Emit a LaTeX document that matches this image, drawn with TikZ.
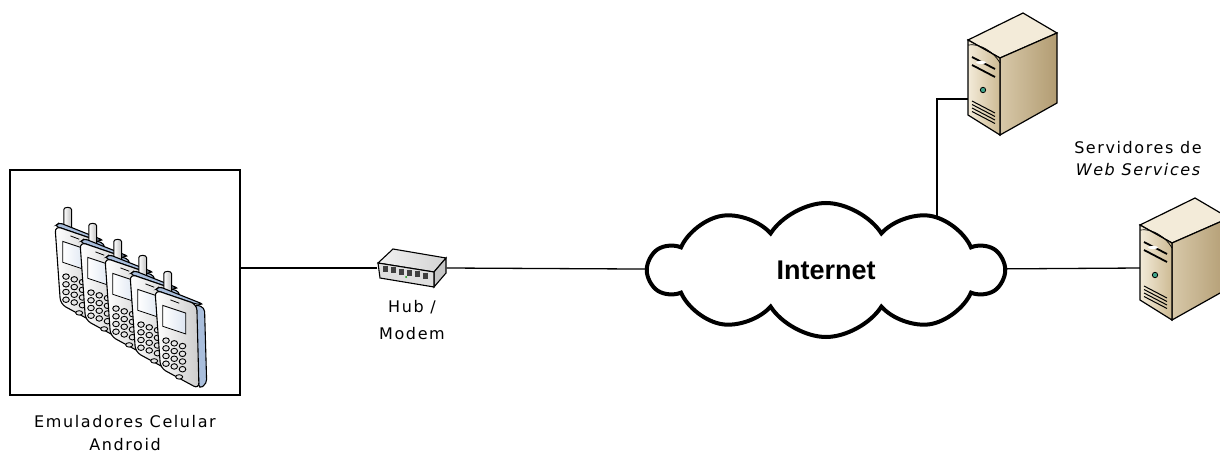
\documentclass[tikz,border=0pt]{standalone}
\usepackage{fontspec}
\setmainfont{DejaVu Sans}
\newfontfamily\rotulofonte[LetterSpace=10]{DejaVu Sans}
\newfontfamily\nuvemfonte{Liberation Sans}
\usetikzlibrary{positioning,shapes.symbols,backgrounds}

\definecolor{begeclaro}{HTML}{F3EBD9}
\definecolor{begeescuro}{HTML}{CDBA93}
\definecolor{begelado}{HTML}{B29C72}
\definecolor{azulcel}{HTML}{A9BEDC}
\definecolor{verdeled}{HTML}{3FA58A}

\tikzset{
  rotulo/.style={font=\rotulofonte\fontsize{16}{22}\selectfont, align=center, inner sep=0pt},
  ligacao/.style={line width=1.3pt},
  % aparelho celular
  celular/.pic={
    \draw[line width=1pt, left color=white, right color=gray!50]
      (8,5) -- (8,-15) arc[start angle=180, end angle=0, x radius=3.5pt, y radius=2pt] -- (15,6) -- cycle;
    \draw[line width=1.1pt, fill=azulcel, rounded corners=4pt]
      (36,13) -- (45,16) -- (47,85) -- (40,90) -- cycle;
    \draw[line width=1.1pt, fill=azulcel, rounded corners=3pt]
      (0,0) -- (4,-3) -- (44,13) -- (38,13) -- cycle;
    \draw[line width=1.1pt, left color=white, right color=gray!40, rounded corners=6pt]
      (0,0) -- (38,13) -- (40,90) -- (5,71) -- cycle;
    \draw[line width=0.8pt, left color=white, right color=azulcel!40]
      (7,14) -- (28,21) -- (28,40) -- (7,33) -- cycle;
    \draw[line width=0.8pt] (14,9) -- (22,12);
    \foreach \l in {0,...,3}
      \foreach \c in {0,1,2}
        \draw[line width=0.9pt, fill=gray!20] ({10+7.5*\c},{46+7*\l+2.5*\c}) ellipse (3pt and 2.5pt);
    \draw[line width=0.9pt, fill=gray!20] (22,79) ellipse (3.2pt and 2pt);
  },
  % servidor em torre
  servidor/.pic={
    \draw[line width=1.2pt, fill=begeclaro] (0,0) -- (55,-27) -- (89,-7) -- (32,18) -- cycle;
    \draw[line width=1.2pt, left color=begeescuro!80, right color=begelado] (32,18) -- (89,-7) -- (89,63) -- (32,95) -- cycle;
    \draw[line width=1.2pt, left color=begeclaro, right color=begeescuro] (0,0) -- (32,18) -- (32,95) -- (0,75) -- cycle;
    \draw[line width=0.7pt] (0,5) .. controls (12,3) and (26,12) .. (32,23);
    \draw[line width=1.8pt] (4,17) -- (27,29);
    \draw[line width=1.8pt] (4,25) -- (27,37);
    \fill[white] (13,22.5) ellipse (5pt and 1.6pt);
    \draw[line width=0.8pt, fill=verdeled] (15,50) circle (2.7pt);
    \foreach \k in {0,...,3}
      \draw[line width=1pt] (4,{61+3.5*\k}) -- (27,{73+3.5*\k});
  }
}

\begin{document}
\begin{tikzpicture}[x=1pt,y=-1pt]
  \useasboundingbox (0,0) rectangle (1220,452);

  % emuladores
  \node[draw, line width=1.4pt, minimum width=230pt, minimum height=225pt, inner sep=0pt] (emu) at (125,282.5) {};
  \foreach \k in {0,...,4}
    \pic[scale=1.1] at ({55+25*\k},{226+16*\k}) {celular};
  \node[rotulo, font=\rotulofonte\fontsize{16}{23}\selectfont, below=19pt of emu] (emutxt) {Emuladores Celular\\Android};

  % hub
  \node[minimum width=69pt, minimum height=36pt, inner sep=0pt] (hub) at (412,268) {};
  \draw[line width=1.1pt, left color=gray!10, right color=gray!35] (378,263) -- (393,249) -- (446,258) -- (434,272) -- cycle;
  \draw[line width=1.1pt, fill=gray!45] (434,272) -- (446,258) -- (446,273) -- (434,287) -- cycle;
  \draw[line width=1.1pt, fill=gray!25] (378,263) -- (434,272) -- (434,287) -- (380,278) -- cycle;
  \foreach \k in {0,...,5}
    \fill[black!75] ({383+8*\k},{266+1.3*\k}) rectangle ++(5,6);
  \fill[green!60!black] (406,277) circle (1pt);
  \node[rotulo, below=14pt of hub] (hubtxt) {Hub /\\[5pt]Modem};

  % internet
  \node[cloud, cloud puffs=10, cloud puff arc=115, aspect=2.6, draw, line width=4pt, fill=white,
        minimum width=354pt, minimum height=134pt, font=\nuvemfonte\bfseries\fontsize{27}{30}\selectfont]
    (internet) at (826,270) {Internet};

  % servidores
  \pic at (968,40) {servidor};
  \coordinate (srvA) at (968,99);
  \begin{scope}[shift={(1140,225)}, scale=1.1]
    \pic at (0,0) {servidor};
  \end{scope}
  \coordinate (srvB) at (1141,268);
  \node[rotulo, anchor=north] (srvtxt) at (1138,141) {Servidores de\\\itshape Web Services};

  \begin{pgfonlayer}{background}
    \draw[ligacao] (hub.west) -- (hub.west -| emu.east);
    \draw[ligacao] (hub.east) -- (internet.center);
    \draw[ligacao] ([xshift=111pt]internet.center) |- (srvA);
    \draw[ligacao] (internet.center) -- (srvB);
  \end{pgfonlayer}
\end{tikzpicture}
\end{document}
